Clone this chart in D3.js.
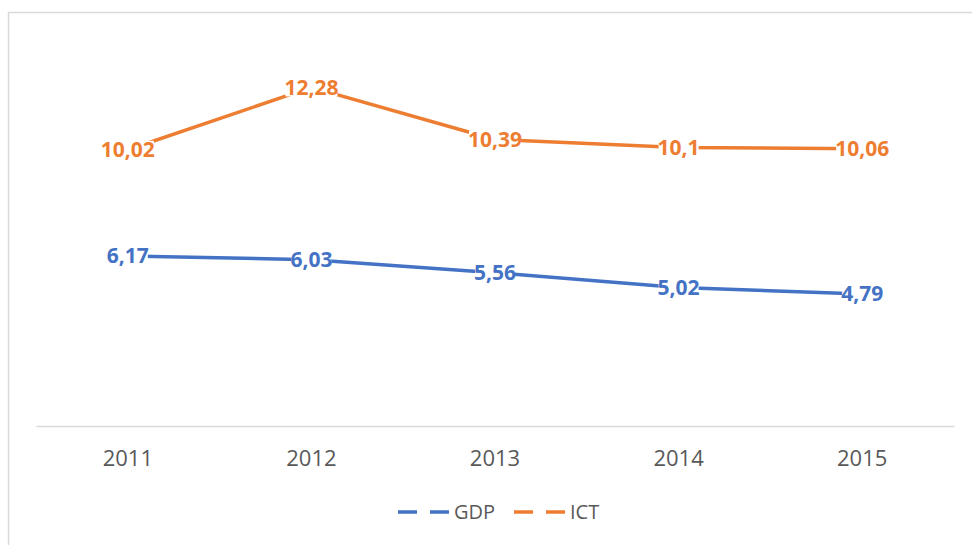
<!DOCTYPE html>
<html><head><meta charset="utf-8">
<script src="https://cdn.jsdelivr.net/npm/d3@7"></script>
<style>body{margin:0;background:#fff}svg{display:block}</style>
</head><body><svg id="c" width="972" height="545"></svg>
<script>
const categories = ["2011","2012","2013","2014","2015"];
const gdp = [6.17, 6.03, 5.56, 5.02, 4.79];
const ict = [10.02, 12.28, 10.39, 10.1, 10.06];
const seriesNames = ["GDP","ICT"];
const colors = ["#4472C4","#ED7D31"];
const series = [gdp, ict];

const svg = d3.select("#c");
const font = "'Open Sans', sans-serif";
// outer border
svg.append("rect").attr("x",8.5).attr("y",12.5).attr("width",1000).attr("height",600)
  .attr("fill","none").attr("stroke","#d9d9d9").attr("stroke-width",1.5);

const x = d3.scaleBand().domain(categories).range([36,954]);
const y = d3.scaleLinear().domain([0,14]).range([426,40]);

// x axis
const ax = svg.append("g").attr("transform","translate(0,426)")
  .call(d3.axisBottom(x).tickSize(0).tickPadding(0));
ax.select(".domain").attr("stroke","#d9d9d9").attr("stroke-width",1.5);
ax.selectAll("text").attr("font-family",font).attr("font-size",22).attr("fill","#595959")
  .attr("dy",null).attr("y",40);

const line = d3.line().x((d,i)=>x(categories[i])+x.bandwidth()/2).y(d=>y(d));
series.forEach((s,k)=>{
  svg.append("path").datum(s).attr("d",line).attr("fill","none")
    .attr("stroke",colors[k]).attr("stroke-width",3.5).attr("stroke-linejoin","round");
});
series.forEach((s,k)=>{
  const g = svg.append("g");
  s.forEach((v,i)=>{
    const cx = x(categories[i])+x.bandwidth()/2, cy = y(v);
    const t = g.append("text").attr("x",cx).attr("y",cy).attr("dy","0.36em")
      .attr("text-anchor","middle").attr("font-family",font).attr("font-size",21)
      .attr("font-weight","bold").attr("fill",colors[k])
      .text(String(v).replace(".",","));
    const b = t.node().getBBox();
    g.insert("rect","text").attr("x",b.x+1).attr("y",cy-9).attr("width",b.width-2).attr("height",18).attr("fill","#fff");
  });
});

// legend
const legendX = [398, 514];
seriesNames.forEach((n,k)=>{
  const lx = legendX[k];
  svg.append("line").attr("x1",lx).attr("x2",lx+52).attr("y1",512).attr("y2",512)
    .attr("stroke",colors[k]).attr("stroke-width",3.5).attr("stroke-dasharray","19,13");
  svg.append("text").attr("x",lx+56).attr("y",519).attr("font-family",font).attr("font-size",20)
    .attr("fill","#595959").text(n);
});
</script></body></html>
